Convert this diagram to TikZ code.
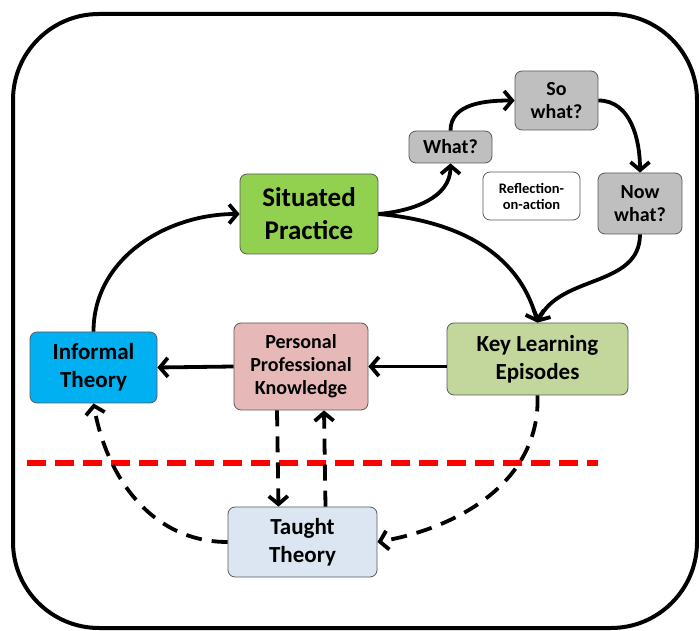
\documentclass[tikz,border=0pt]{standalone}
\usepackage{fontspec}
\setmainfont{Carlito}
\usetikzlibrary{arrows.meta}
\definecolor{spgreen}{HTML}{92D050}
\definecolor{itblue}{HTML}{00B0F0}
\definecolor{ppkpink}{HTML}{E6B9B8}
\definecolor{kleolive}{HTML}{C3D69B}
\definecolor{ttblue}{HTML}{DCE6F2}
\definecolor{qgray}{HTML}{BFBFBF}

\begin{document}
\begin{tikzpicture}[x=1pt, y=1pt,
    bx/.style={draw=black!65, line width=0.8pt, rounded corners=7pt, align=center,
      inner sep=0pt, text=black},
    big/.style={font=\fontsize{27}{33}\selectfont\bfseries},
    mid/.style={font=\fontsize{23}{28}\selectfont\bfseries},
    sml/.style={font=\fontsize{20}{23}\selectfont\bfseries},
    tiny/.style={font=\fontsize{14.5}{16}\selectfont\bfseries},
    ar/.style={line width=3.8pt, -{Straight Barb[length=8pt,width=19pt]}},
    da/.style={ar, dash pattern=on 16pt off 10pt}]
  \useasboundingbox (0,0) rectangle (699,630);
  \draw[line width=4pt, rounded corners=86pt] (13,2) rectangle (697,616);

  \node[bx, big, fill=spgreen, minimum width=138, minimum height=80] (sp) at (309,416) {Situated\\Practice};
  \node[bx, sml, fill=qgray, minimum width=83, minimum height=32] (what) at (450.5,483) {What?};
  \node[bx, sml, fill=qgray, minimum width=83, minimum height=59] (sowhat) at (556.5,529.5) {So\\what?};
  \node[bx, sml, fill=qgray, minimum width=84, minimum height=61] (nowwhat) at (640,426.5) {Now\\what?};
  \node[bx, tiny, fill=white, minimum width=97, minimum height=48] (refl) at (531.5,434) {Reflection-\\on-action};
  \node[bx, mid, fill=itblue, minimum width=127, minimum height=71] (it) at (93.5,262.5) {Informal\\Theory};
  \node[bx, sml, fill=ppkpink, minimum width=134, minimum height=87] (ppk) at (301,263.5) {Personal\\Professional\\Knowledge};
  \node[bx, mid, fill=kleolive, minimum width=181, minimum height=72] (kle) at (537.5,271) {Key Learning\\Episodes};
  \node[bx, mid, fill=ttblue, minimum width=149, minimum height=70] (tt) at (302.5,88) {Taught\\Theory};

  % reflection loop
  \draw[ar] (it.north) to[out=90, in=180] (sp.west);
  \draw[ar] (sp.east) to[out=5, in=-90] (what.south);
  \draw[ar] (what.north) to[out=90, in=180] (sowhat.west);
  \draw[ar] (sowhat.east) to[out=0, in=90] (nowwhat.north);
  \draw[ar] (nowwhat.south) to[out=-90, in=65] (kle.north);
  \draw[ar] (sp.east) to[out=-5, in=105] (kle.north);
  \draw[ar] (kle.west |- ppk) -- (ppk.east);
  \draw[ar] (ppk.west) -- (it.east);

  % below the line
  \coordinate (cut1) at (27,167);
  \coordinate (cut2) at (598,167);
  \draw[red, line width=6pt, dash pattern=on 19pt off 9pt] (cut1) -- (cut2);
  \draw[da] ([xshift=-24pt]ppk.south) -- ([xshift=-24pt]tt.north);
  \draw[da] ([xshift=23pt]tt.north) -- ([xshift=23pt]ppk.south);
  \draw[da] (tt.west) to[out=180, in=-80] (it.south);
  \draw[da] (kle.south) to[out=-88, in=10] (tt.east);
\end{tikzpicture}
\end{document}
